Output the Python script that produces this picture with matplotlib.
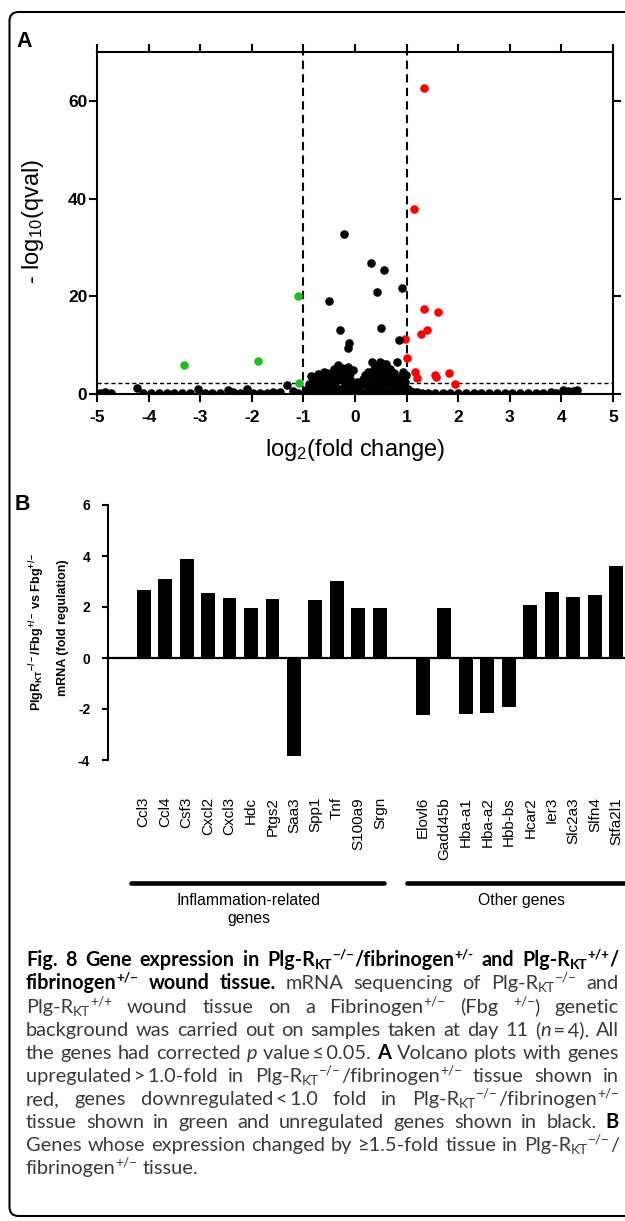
import matplotlib
matplotlib.use('Agg')
import matplotlib.pyplot as plt
from matplotlib.patches import FancyBboxPatch
from matplotlib.transforms import IdentityTransform

plt.rcParams['font.family'] = ['Liberation Sans', 'DejaVu Sans']
plt.rcParams['mathtext.fontset'] = 'custom'
plt.rcParams['mathtext.rm'] = 'Liberation Sans'
plt.rcParams['mathtext.bf'] = 'Liberation Sans:bold'
plt.rcParams['mathtext.it'] = 'Liberation Sans:italic'

# ---- panel A: volcano plot data (log2 fold change, -log10 qval) ----
red_x = [1.33, 1.15, 1.34, 1.61, 1.28, 1.39, 0.97, 1.01, 1.17, 1.21, 1.55, 1.57, 1.83, 1.93]
red_y = [62.7, 37.8, 17.5, 16.7, 12.2, 13.1, 11.2, 7.3, 4.6, 3.3, 3.8, 3.4, 4.2, 2.1]

green_x = [-3.32, -1.88, -1.11, -1.08]
green_y = [6.0, 6.8, 20.1, 2.2]

black_x = [
    # scattered
    -0.22, 0.31, 0.56, 0.92, 0.42, -0.51, 0.50, -0.30, -0.12, -0.13, 0.85,
    # baseline left
    -4.95, -4.85, -4.72, -4.23, -4.10, -3.95, -3.80, -3.65, -3.50, -3.35, -3.20, -3.04,
    -2.90, -2.78, -2.62, -2.46, -2.36, -2.22, -2.10, -1.98, -1.85, -1.70, -1.58, -1.45,
    -1.32, -1.20, -1.10,
    # cluster low fill
    -0.95, -0.83, -0.71, -0.59, -0.47, -0.35, -0.23, -0.11, 0.01, 0.13, 0.25, 0.37,
    0.49, 0.61, 0.73, 0.85, 0.97,
    # cluster
    -0.95, -0.90, -0.85, -0.80, -0.75, -0.72, -0.68, -0.62, -0.58, -0.55, -0.52, -0.48,
    -0.45, -0.42, -0.38, -0.35, -0.32, -0.30, -0.28, -0.25, -0.22, -0.19, -0.16, -0.13,
    -0.10, -0.07, -0.04, -0.01, 0.03, 0.07, 0.12, 0.16, 0.19, 0.23, 0.26, 0.29, 0.32,
    0.34, 0.36, 0.39, 0.42, 0.45, 0.48, 0.50, 0.52, 0.55, 0.58, 0.61, 0.63, 0.66, 0.70,
    0.73, 0.77, 0.81, 0.84, 0.87, 0.90, 0.93, 0.95, 0.97, 0.98, 1.02, 1.06, 1.12,
    # cluster, second layer
    -0.90, -0.80, -0.70, -0.65, -0.60, -0.50, -0.45, -0.40, -0.35, -0.27, -0.20, -0.15,
    -0.10, -0.05, 0.05, 0.10, 0.20, 0.27, 0.30, 0.38, 0.41, 0.46, 0.53, 0.57, 0.60,
    0.65, 0.68, 0.72, 0.75, 0.80, 0.86, 0.92, 0.55, 0.44, -0.40, -0.25, -0.60, -0.78,
    # baseline right
    1.20, 1.30, 1.42, 1.55, 1.70, 1.85, 2.00, 2.15, 2.30, 2.45, 2.60, 2.75, 2.90, 3.05,
    3.20, 3.35, 3.50, 3.65, 3.80, 3.90, 4.03, 4.12, 4.22, 4.30,
]
black_y = [
    32.8, 26.8, 25.3, 21.7, 20.8, 19.1, 13.6, 13.0, 10.4, 9.5, 11.0,
    0.3, 0.5, 0.2, 1.2, 0.2, 0.2, 0.2, 0.2, 0.2, 0.2, 0.2, 1.1,
    0.2, 0.3, 0.2, 0.9, 0.4, 0.3, 1.1, 0.3, 0.2, 0.3, 0.4, 0.5,
    1.8, 0.6, 0.3,
    0.5, 0.7, 0.4, 0.8, 0.5, 0.9, 0.6, 0.4, 0.7, 0.5, 0.8, 0.6,
    0.4, 0.9, 0.5, 0.7, 0.4,
    0.8, 2.0, 3.6, 1.2, 2.8, 4.0, 1.8, 3.0, 0.9, 4.2, 2.4, 3.5,
    1.5, 4.6, 2.2, 3.2, 5.9, 1.0, 4.8, 2.8, 3.8, 4.5, 1.8, 5.6,
    3.0, 2.0, 5.0, 1.2, 2.5, 1.5, 2.2, 3.0, 3.9, 1.8, 4.5, 2.6, 6.6,
    3.4, 5.2, 1.5, 5.5, 2.8, 6.6, 4.0, 5.2, 2.0, 3.6, 6.2, 4.8, 2.6, 3.8,
    1.4, 2.9, 6.6, 2.0, 3.5, 1.2, 4.5, 3.4, 2.5, 3.9, 1.0, 0.6, 0.4,
    1.4, 2.2, 3.2, 2.5, 1.6, 3.0, 2.6, 1.2, 4.0, 3.4, 2.3, 3.3,
    4.2, 1.6, 1.0, 1.8, 2.8, 3.6, 2.0, 4.2, 3.0, 1.8, 3.2, 4.4, 2.2,
    3.4, 5.2, 2.4, 4.2, 1.8, 2.6, 3.0, 6.1, 6.0, 5.2, 5.4, 4.6, 3.2,
    0.4, 0.3, 0.3, 0.2, 0.3, 0.2, 0.3, 0.2, 0.3, 0.2, 0.3, 0.2, 0.3, 0.2,
    0.3, 0.2, 0.3, 0.3, 0.4, 0.2, 0.8, 0.6, 0.7, 0.8,
]
q_threshold = 2.3
x_ticks_a = [-5, -4, -3, -2, -1, 0, 1, 2, 3, 4, 5]
y_ticks_a = [0, 20, 40, 60]

# ---- panel B: fold regulation per gene ----
inflam_genes = ['Ccl3', 'Ccl4', 'Csf3', 'Cxcl2', 'Cxcl3', 'Hdc', 'Ptgs2', 'Saa3',
                'Spp1', 'Tnf', 'S100a9', 'Srgn']
inflam_vals = [2.68, 3.11, 3.88, 2.56, 2.35, 1.97, 2.30, -3.83, 2.27, 3.03, 1.97, 1.97]
other_genes = ['Elovl6', 'Gadd45b', 'Hba-a1', 'Hba-a2', 'Hbb-bs', 'Hcar2', 'Ier3',
               'Slc2a3', 'Slfn4', 'Stfa2l1']
other_vals = [-2.25, 1.97, -2.20, -2.17, -1.91, 2.08, 2.59, 2.38, 2.48, 3.62]
y_ticks_b = [-4, -2, 0, 2, 4, 6]

W, H = 625, 1221
fig = plt.figure(figsize=(W / 100, H / 100), dpi=100)


def box(left, top, right, bottom):
    # image pixel coords (origin top-left) -> figure fraction rect
    return [left / W, 1 - bottom / H, (right - left) / W, (bottom - top) / H]


# frame around the whole figure (right side runs off the image)
frame = FancyBboxPatch((9.5, H - 1216), 660, 1216 - 12,
                       boxstyle='round,pad=0,rounding_size=9',
                       transform=IdentityTransform(), fill=False,
                       ec='black', lw=1.5)
fig.add_artist(frame)

# ================= panel A =================
ax1 = fig.add_axes(box(97, 52, 613, 394))
ax1.scatter(red_x, red_y, s=38, c='#ff0000', lw=0, zorder=3)
ax1.scatter(black_x, black_y, s=38, c='black', lw=0, zorder=4)
ax1.scatter(green_x, green_y, s=38, c='#1fbf1f', lw=0, zorder=5)
for xv in (-1, 1):
    ax1.axvline(xv, color='black', lw=1.5, ls=(0, (4, 2.5)), zorder=2)
ax1.axhline(q_threshold, color='black', lw=1.0, ls=(0, (3, 2)), zorder=2)
ax1.set_xlim(-5, 5)
ax1.set_ylim(0, 70)
ax1.set_xticks(x_ticks_a)
ax1.set_yticks(y_ticks_a)
ax1.set_xticklabels([str(v) for v in x_ticks_a], fontweight='bold', fontsize=12.5)
ax1.set_yticklabels([str(v) for v in y_ticks_a], fontweight='bold', fontsize=12.5)
ax1.tick_params(top=True, right=True, direction='out', length=5.5, width=1.5)
ax1.tick_params(axis='x', pad=6)
ax1.tick_params(axis='y', pad=1.5)
for sp in ax1.spines.values():
    sp.set_linewidth(1.5)

fig.text(33 / W, 1 - 222 / H, '- log$_{10}$(qval)', rotation=90, fontsize=17,
         ha='center', va='center')
fig.text(355 / W, 1 - 450 / H, 'log$_2$(fold change)', fontsize=17,
         ha='center', va='center')
fig.text(16 / W, 1 - 47 / H, 'A', fontsize=15.5, fontweight='bold')

# ================= panel B =================
genes = inflam_genes + other_genes
vals = inflam_vals + other_vals
pos = list(range(len(inflam_genes))) + \
    [len(inflam_genes) + 1 + i for i in range(len(other_genes))]

ax2 = fig.add_axes(box(108.3, 505, 640, 760))
ax2.bar(pos, vals, width=0.65, color='black', zorder=2)
ax2.axhline(0, color='black', lw=1.6, zorder=3)
ax2.set_xlim(-1.64, 23.1)
ax2.set_ylim(-4, 6)
for side in ('top', 'right', 'bottom'):
    ax2.spines[side].set_visible(False)
ax2.spines['left'].set_linewidth(1.5)
ax2.set_yticks(y_ticks_b)
ax2.set_yticklabels([str(v) for v in y_ticks_b], fontweight='bold', fontsize=10)
ax2.tick_params(axis='y', direction='out', length=4, width=1.5, pad=9)
ax2.set_xticks(pos)
ax2.set_xticklabels(genes, rotation=90, fontsize=11)
ax2.tick_params(axis='x', length=0, pad=26.6)

n_inf = len(inflam_genes)
ax2.plot([-0.59, n_inf - 0.8], [-8.82, -8.82], color='black', lw=3.3,
         solid_capstyle='round', clip_on=False)
ax2.plot([n_inf + 0.27, 24], [-8.82, -8.82], color='black', lw=3.3,
         solid_capstyle='round', clip_on=False)
ax2.text(4.9, -9.2, 'Inflammation-related\ngenes', ha='center', va='top',
         fontsize=11.3, linespacing=1.25)
ax2.text(17.6, -9.2, 'Other genes', ha='center', va='top', fontsize=11.3)

fig.text(37 / W, 1 - 632 / H,
         r'$\mathbf{PlgR_{KT}{}^{-/-}/Fbg^{+/-}\ vs\ Fbg^{+/-}}$',
         rotation=90, fontsize=9, ha='center', va='center')
fig.text(63 / W, 1 - 628 / H, 'mRNA (fold regulation)', rotation=90,
         fontsize=9, fontweight='bold', ha='center', va='center')
fig.text(15 / W, 1 - 510 / H, 'B', fontsize=15.5, fontweight='bold')

# ================= caption =================
CAP_FAMILY = ['Lato', 'DejaVu Sans']
BODY = '#3a3a3a'
X0, X1 = 26, 619
renderer = fig.canvas.get_renderer()
sizes = {'body': 10.0, 'title': 10.0}


def split_words(runs):
    words = [[]]
    for s, st in runs:
        parts = s.split(' ')
        for k, p in enumerate(parts):
            if k > 0:
                words.append([])
            if p:
                words[-1].append((p, st))
    return [w for w in words if w]


def run_size(st):
    base = sizes['title'] if st.startswith('t') else sizes['body']
    return base * (0.68 if ('sup' in st or 'sub' in st) else 1.0)


def make_text(s, st):
    bold = st.startswith('t') or st.startswith('b')
    return fig.text(0, 0, s, transform=IdentityTransform(),
                    fontsize=run_size(st),
                    fontweight='bold' if bold else 'normal',
                    fontstyle='italic' if st == 'i' else 'normal',
                    family=CAP_FAMILY, color='black' if bold else BODY,
                    ha='left', va='baseline')


def layout_words(runs):
    placed = []
    for w in split_words(runs):
        items = []
        width = 0
        for s, st in w:
            t = make_text(s, st)
            items.append((t, st, width))
            width += t.get_window_extent(renderer).width
        placed.append((items, width))
    return placed


def natural_width(runs):
    placed = layout_words(runs)
    total = sum(wd for _, wd in placed)
    for items, _ in placed:
        for t, _, _ in items:
            t.remove()
    return total + 0.26 * sizes['body'] * 1.389 * (len(placed) - 1)


def caption_line(y, runs, justify=True):
    placed = layout_words(runs)
    total = sum(wd for _, wd in placed)
    if justify and len(placed) > 1:
        gap = (X1 - X0 - total) / (len(placed) - 1)
    else:
        gap = sizes['body'] * 1.389 * 0.26
    x = X0
    for items, wd in placed:
        for t, st, off in items:
            em = run_size(st) / 0.68 * 1.389 if ('sup' in st or 'sub' in st) else 0
            dy = 0.36 * em if 'sup' in st else (-0.16 * em if 'sub' in st else 0)
            t.set_position((x + off, H - y + dy))
        x += wd + gap


MINUS = '\u2212/\u2212'
PM = '+/\u2212'
lines = [
    [('Fig. 8 Gene expression in Plg-R', 't'), ('KT', 'tsub'), (MINUS, 'tsup'),
     ('/fibrinogen', 't'), ('+/-', 'tsup'), (' and Plg-R', 't'), ('KT', 'tsub'),
     ('+/+', 'tsup'), ('/', 't')],
    [('fibrinogen', 't'), (PM, 'tsup'), (' wound tissue.', 't'),
     (' mRNA sequencing of Plg-R', 'n'), ('KT', 'sub'), (MINUS, 'sup'), (' and', 'n')],
    [('Plg-R', 'n'), ('KT', 'sub'), ('+/+', 'sup'), (' wound tissue on a Fibrinogen', 'n'),
     (PM, 'sup'), (' (Fbg ', 'n'), (PM, 'sup'), (') genetic', 'n')],
    [('background was carried out on samples taken at day 11 (', 'n'), ('n', 'i'),
     ('\u2009=\u20094). All', 'n')],
    [('the genes had corrected ', 'n'), ('p', 'i'), (' value\u2009\u2264\u20090.05. ', 'n'),
     ('A', 'b'), (' Volcano plots with genes', 'n')],
    [('upregulated\u2009>\u20091.0-fold in Plg-R', 'n'), ('KT', 'sub'), (MINUS, 'sup'),
     ('/fibrinogen', 'n'), (PM, 'sup'), (' tissue shown in', 'n')],
    [('red, genes downregulated\u2009<\u20091.0 fold in Plg-R', 'n'), ('KT', 'sub'),
     (MINUS, 'sup'), ('/fibrinogen', 'n'), (PM, 'sup')],
    [('tissue shown in green and unregulated genes shown in black. ', 'n'), ('B', 'b')],
    [('Genes whose expression changed by \u22651.5-fold tissue in Plg-R', 'n'),
     ('KT', 'sub'), (MINUS, 'sup'), ('/', 'n')],
    [('fibrinogen', 'n'), (PM, 'sup'), (' tissue.', 'n')],
]

# fit font sizes so the fullest lines just fill the column
body_max = max(natural_width(r) for r in lines[2:9])
sizes['body'] = 10.0 * (X1 - X0 - 4) / body_max
title_w = natural_width(lines[0])
sizes['title'] = 10.0 * (X1 - X0 - 6) / title_w

line_y = [966, 989] + [1013 + 23 * i for i in range(8)]
for i, runs in enumerate(lines):
    caption_line(line_y[i], runs, justify=(i < len(lines) - 1))

fig.savefig('out.png', dpi=100)
